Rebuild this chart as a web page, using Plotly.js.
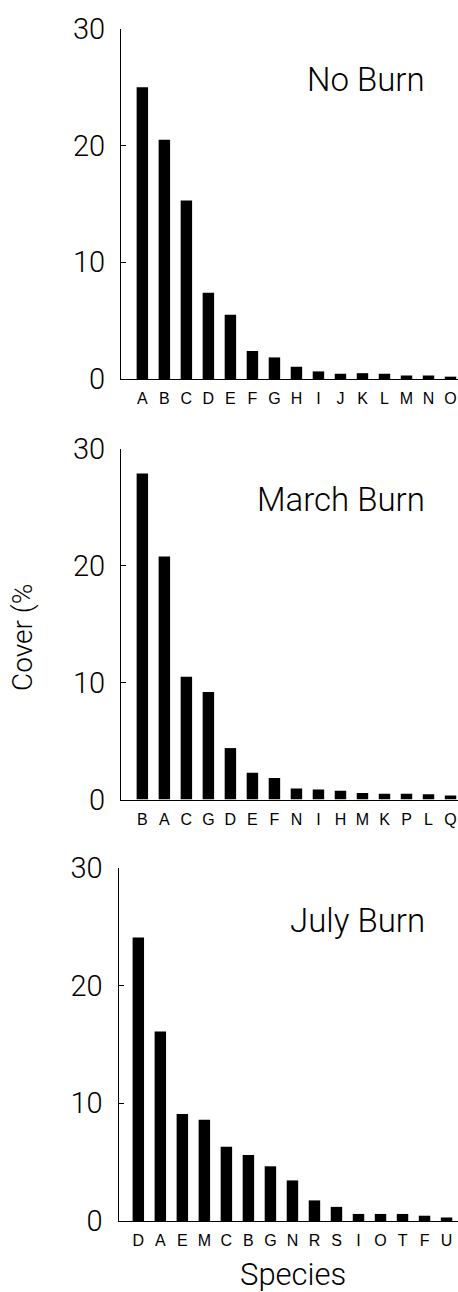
<!DOCTYPE html>
<html>
<head>
<meta charset="utf-8">
<script src="https://cdn.plot.ly/plotly-3.0.1.min.js"></script>
<style>html,body{margin:0;padding:0;background:#fff;}#chart{width:458px;height:1292px;}</style>
</head>
<body>
<div id="chart"></div>
<script>
// ---- data ----
const noBurnSpecies = ["A","B","C","D","E","F","G","H","I","J","K","L","M","N","O"];
const noBurnCover   = [25.0, 20.5, 15.3, 7.4, 5.5, 2.4, 1.85, 1.05, 0.65, 0.45, 0.5, 0.45, 0.3, 0.3, 0.2];

const marchSpecies = ["B","A","C","G","D","E","F","N","I","H","M","K","P","L","Q"];
const marchCover   = [27.9, 20.8, 10.5, 9.2, 4.4, 2.3, 1.85, 0.95, 0.85, 0.75, 0.55, 0.5, 0.5, 0.45, 0.35];

const julySpecies = ["D","A","E","M","C","B","G","N","R","S","I","O","T","F","U"];
const julyCover   = [24.1, 16.1, 9.1, 8.6, 6.3, 5.6, 4.65, 3.45, 1.75, 1.2, 0.6, 0.6, 0.6, 0.45, 0.3];

const panelTitles = ["No Burn", "March Burn", "July Burn"];
const yTicks = [0, 10, 20, 30];
const yTitle = "Cover (%";
const xTitle = "Species";

// ---- layout helpers ----
const W = 458, H = 1292;
const px = v => v / W;
const py = v => 1 - v / H;
const FONT = "Roboto, Liberation Sans, Arial, sans-serif";
const FONT_X = "Liberation Sans, Arial, sans-serif";

function bar(x, y, ax) {
  return {type: "bar", x: x, y: y, xaxis: "x" + ax, yaxis: "y" + ax,
          marker: {color: "#000", line: {width: 0}}, width: 0.52, hoverinfo: "x+y"};
}

const data = [
  bar(noBurnSpecies, noBurnCover, ""),
  bar(marchSpecies, marchCover, "2"),
  bar(julySpecies, julyCover, "3")
];
data[0].xaxis = "x"; data[0].yaxis = "y";

function xax(domL, range, anchor) {
  return {domain: [px(domL), 1], range: range, type: "category", anchor: anchor,
          showline: true, linecolor: "#000", linewidth: 1, showgrid: false, zeroline: false,
          ticks: "", tickfont: {family: FONT_X, size: 16, color: "#000"}, ticklabelstandoff: 5,
          fixedrange: true};
}
function yax(bot, top, anchor) {
  return {domain: [py(bot), py(top)], range: [0, 30], anchor: anchor,
          tickvals: yTicks, ticks: "inside", ticklen: 5, tickcolor: "#000",
          showline: true, linecolor: "#000", linewidth: 1, showgrid: false, zeroline: false,
          tickfont: {family: FONT, size: 29, color: "#000", weight: 300}, ticklabelstandoff: 9,
          fixedrange: true};
}

const layout = {
  width: W, height: H,
  margin: {l: 0, r: 0, t: 0, b: 0},
  paper_bgcolor: "#fff", plot_bgcolor: "#fff",
  showlegend: false, bargap: 0.5,
  xaxis:  xax(121, [-0.97, 14.34], "y"),
  yaxis:  yax(379, 29, "x"),
  xaxis2: xax(121, [-0.97, 14.34], "y2"),
  yaxis2: yax(799.5, 449, "x2"),
  xaxis3: xax(118.5, [-0.9, 14.52], "y3"),
  yaxis3: yax(1221, 868, "x3"),
  annotations: [
    {text: panelTitles[0], x: px(427), y: py(79), xref: "paper", yref: "paper", xanchor: "right", yanchor: "middle", showarrow: false, font: {family: FONT, size: 33, color: "#000", weight: 300}},
    {text: panelTitles[1], x: px(427), y: py(499), xref: "paper", yref: "paper", xanchor: "right", yanchor: "middle", showarrow: false, font: {family: FONT, size: 33, color: "#000", weight: 300}},
    {text: panelTitles[2], x: px(427), y: py(920), xref: "paper", yref: "paper", xanchor: "right", yanchor: "middle", showarrow: false, font: {family: FONT, size: 33, color: "#000", weight: 300}},
    {text: yTitle, x: px(23), y: py(638), xref: "paper", yref: "paper", xanchor: "center", yanchor: "middle", textangle: -90, showarrow: false, font: {family: FONT, size: 28, color: "#000", weight: 300}},
    {text: xTitle, x: px(293), y: py(1274), xref: "paper", yref: "paper", xanchor: "center", yanchor: "middle", showarrow: false, font: {family: FONT, size: 31, color: "#000", weight: 300}}
  ]
};

Plotly.newPlot("chart", data, layout, {staticPlot: true, displayModeBar: false});
</script>
</body>
</html>
